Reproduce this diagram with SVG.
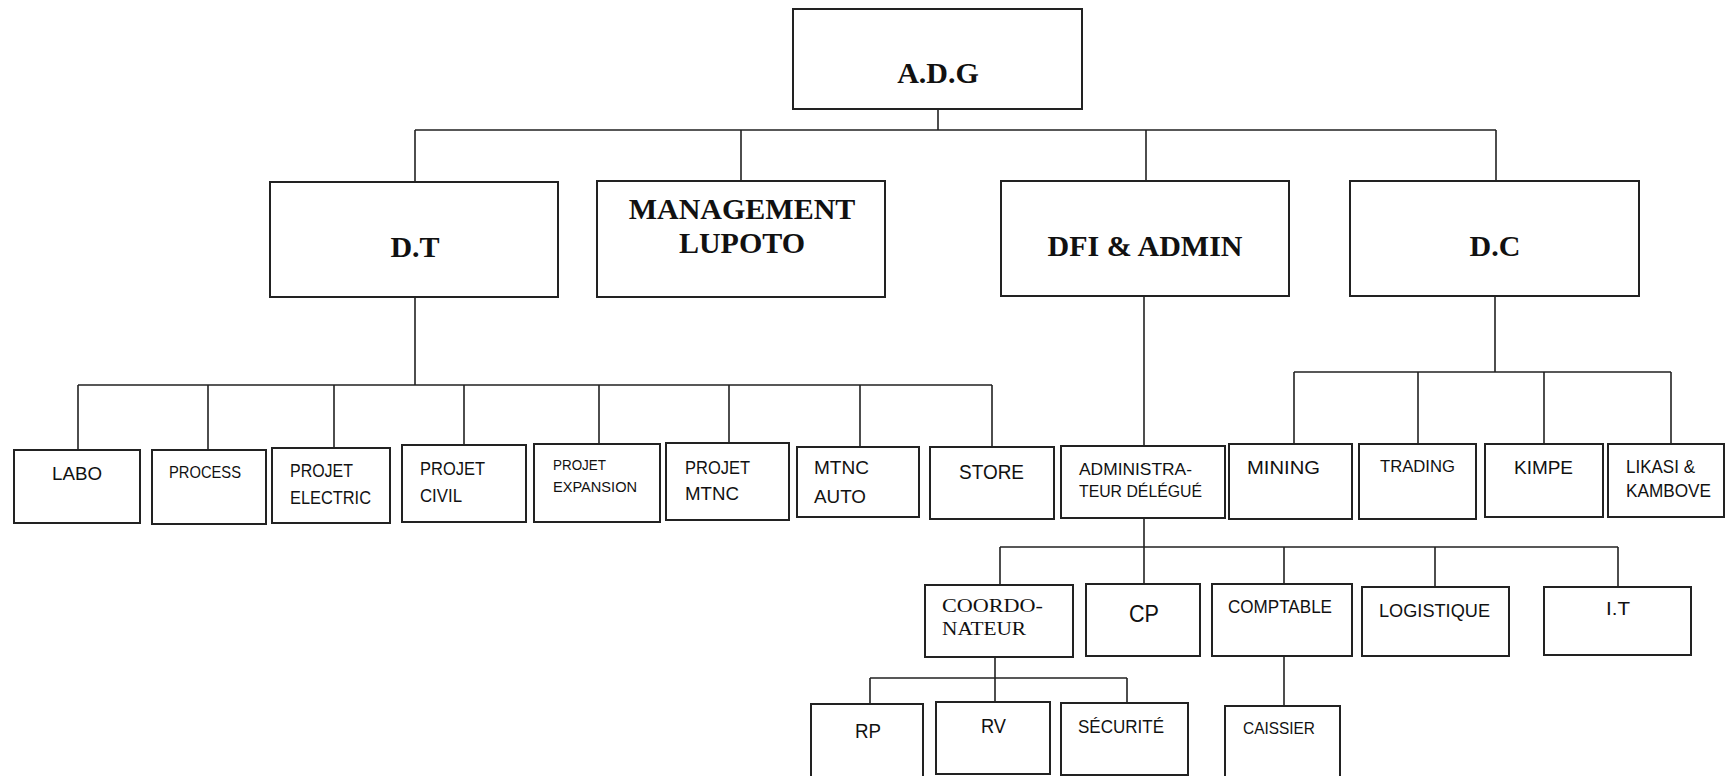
<svg xmlns="http://www.w3.org/2000/svg" width="1728" height="776" viewBox="0 0 1728 776">
<style>
.box{fill:#fff;stroke:#222;stroke-width:2}
.ln{fill:none;stroke:#222;stroke-width:1.6}
.ser{font-family:"Liberation Serif","Times New Roman",serif;font-weight:bold;font-size:30px;fill:#111}
.serr{font-family:"Liberation Serif","Times New Roman",serif;fill:#111}
.san{font-family:"Liberation Sans",Arial,sans-serif;fill:#111}
.c{text-anchor:middle}
</style>
<rect width="1728" height="776" fill="#fff"/>
<g id="connectors" class="ln">
<path d="M938,109V130M415,130H1496M415,130V182M741,130V181M1146,130V181M1496,130V181"/>
<path d="M415,297V385M78,385H992M78,385V450M208,385V450M334,385V448M464,385V445M599,385V444M729,385V443M860,385V447M992,385V447"/>
<path d="M1144,296V446"/>
<path d="M1495,296V372M1294,372H1671M1294,372V444M1418,372V444M1544,372V444M1671,372V444"/>
<path d="M1144,518V547M1000,547H1618M1000,547V585M1144,547V584M1284,547V584M1435,547V587M1618,547V587"/>
<path d="M995,657V678M870,678H1127M870,678V704M995,678V702M1127,678V703"/>
<path d="M1284,656V706"/>
</g>
<g id="adg"><rect class="box" x="793" y="9" width="289" height="100"/><text class="ser c" x="938" y="83">A.D.G</text></g>
<g id="dt"><rect class="box" x="270" y="182" width="288" height="115"/><text class="ser c" x="415" y="257">D.T</text></g>
<g id="management"><rect class="box" x="597" y="181" width="288" height="116"/><text class="ser c" x="742" y="219">MANAGEMENT</text><text class="ser c" x="742" y="253">LUPOTO</text></g>
<g id="dfi"><rect class="box" x="1001" y="181" width="288" height="115"/><text class="ser c" x="1145" y="256">DFI &amp; ADMIN</text></g>
<g id="dc"><rect class="box" x="1350" y="181" width="289" height="115"/><text class="ser c" x="1495" y="256">D.C</text></g>

<g id="labo"><rect class="box" x="14" y="450" width="126" height="73"/><text class="san" x="52" y="480" font-size="18" textLength="50" lengthAdjust="spacingAndGlyphs">LABO</text></g>
<g id="process"><rect class="box" x="152" y="450" width="114" height="74"/><text class="san" x="169" y="478" font-size="17" textLength="72" lengthAdjust="spacingAndGlyphs">PROCESS</text></g>
<g id="projet-electric"><rect class="box" x="272" y="448" width="118" height="75"/><text class="san" x="290" y="477" font-size="18" textLength="63" lengthAdjust="spacingAndGlyphs">PROJET</text><text class="san" x="290" y="504" font-size="18" textLength="81" lengthAdjust="spacingAndGlyphs">ELECTRIC</text></g>
<g id="projet-civil"><rect class="box" x="402" y="445" width="124" height="77"/><text class="san" x="420" y="475" font-size="18" textLength="65" lengthAdjust="spacingAndGlyphs">PROJET</text><text class="san" x="420" y="502" font-size="18" textLength="42" lengthAdjust="spacingAndGlyphs">CIVIL</text></g>
<g id="projet-expansion"><rect class="box" x="534" y="444" width="126" height="78"/><text class="san" x="553" y="470" font-size="14" textLength="53" lengthAdjust="spacingAndGlyphs">PROJET</text><text class="san" x="553" y="492" font-size="14.5" textLength="84" lengthAdjust="spacingAndGlyphs">EXPANSION</text></g>
<g id="projet-mtnc"><rect class="box" x="666" y="443" width="123" height="77"/><text class="san" x="685" y="474" font-size="18" textLength="65" lengthAdjust="spacingAndGlyphs">PROJET</text><text class="san" x="685" y="500" font-size="18" textLength="54" lengthAdjust="spacingAndGlyphs">MTNC</text></g>
<g id="mtnc-auto"><rect class="box" x="797" y="447" width="122" height="70"/><text class="san" x="814" y="474" font-size="18" textLength="55" lengthAdjust="spacingAndGlyphs">MTNC</text><text class="san" x="814" y="503" font-size="18" textLength="52" lengthAdjust="spacingAndGlyphs">AUTO</text></g>
<g id="store"><rect class="box" x="930" y="447" width="124" height="72"/><text class="san" x="959" y="479" font-size="20" textLength="65" lengthAdjust="spacingAndGlyphs">STORE</text></g>

<g id="administrateur"><rect class="box" x="1061" y="446" width="164" height="72"/><text class="san" x="1079" y="475" font-size="17" textLength="113" lengthAdjust="spacingAndGlyphs">ADMINISTRA-</text><text class="san" x="1079" y="497" font-size="17" textLength="123" lengthAdjust="spacingAndGlyphs">TEUR DÉLÉGUÉ</text></g>
<g id="mining"><rect class="box" x="1229" y="444" width="123" height="75"/><text class="san" x="1247" y="474" font-size="19" textLength="73" lengthAdjust="spacingAndGlyphs">MINING</text></g>
<g id="trading"><rect class="box" x="1359" y="444" width="117" height="75"/><text class="san" x="1380" y="472" font-size="17" textLength="75" lengthAdjust="spacingAndGlyphs">TRADING</text></g>
<g id="kimpe"><rect class="box" x="1485" y="444" width="118" height="73"/><text class="san" x="1514" y="474" font-size="18" textLength="59" lengthAdjust="spacingAndGlyphs">KIMPE</text></g>
<g id="likasi"><rect class="box" x="1608" y="444" width="116" height="73"/><text class="san" x="1626" y="473" font-size="17.5" textLength="69" lengthAdjust="spacingAndGlyphs">LIKASI &amp;</text><text class="san" x="1626" y="497" font-size="17.5" textLength="85" lengthAdjust="spacingAndGlyphs">KAMBOVE</text></g>

<g id="coordonateur"><rect class="box" x="925" y="585" width="148" height="72"/><text class="serr" x="942" y="612" font-size="19" textLength="101" lengthAdjust="spacingAndGlyphs">COORDO-</text><text class="serr" x="942" y="635" font-size="19" textLength="84" lengthAdjust="spacingAndGlyphs">NATEUR</text></g>
<g id="cp"><rect class="box" x="1086" y="584" width="114" height="72"/><text class="san" x="1129" y="622" font-size="24" textLength="30" lengthAdjust="spacingAndGlyphs">CP</text></g>
<g id="comptable"><rect class="box" x="1212" y="584" width="140" height="72"/><text class="san" x="1228" y="613" font-size="18" textLength="104" lengthAdjust="spacingAndGlyphs">COMPTABLE</text></g>
<g id="logistique"><rect class="box" x="1362" y="587" width="147" height="69"/><text class="san" x="1379" y="617" font-size="18" textLength="111" lengthAdjust="spacingAndGlyphs">LOGISTIQUE</text></g>
<g id="it"><rect class="box" x="1544" y="587" width="147" height="68"/><text class="san" x="1606" y="615" font-size="18" textLength="24" lengthAdjust="spacingAndGlyphs">I.T</text></g>

<g id="rp"><rect class="box" x="811" y="704" width="112" height="80"/><text class="san" x="855" y="738" font-size="20" textLength="26" lengthAdjust="spacingAndGlyphs">RP</text></g>
<g id="rv"><rect class="box" x="936" y="702" width="114" height="72"/><text class="san" x="981" y="733" font-size="20" textLength="25" lengthAdjust="spacingAndGlyphs">RV</text></g>
<g id="securite"><rect class="box" x="1061" y="703" width="127" height="72"/><text class="san" x="1078" y="733" font-size="18" textLength="86" lengthAdjust="spacingAndGlyphs">SÉCURITÉ</text></g>
<g id="caissier"><rect class="box" x="1225" y="706" width="115" height="80"/><text class="san" x="1243" y="734" font-size="17" textLength="72" lengthAdjust="spacingAndGlyphs">CAISSIER</text></g>
</svg>
